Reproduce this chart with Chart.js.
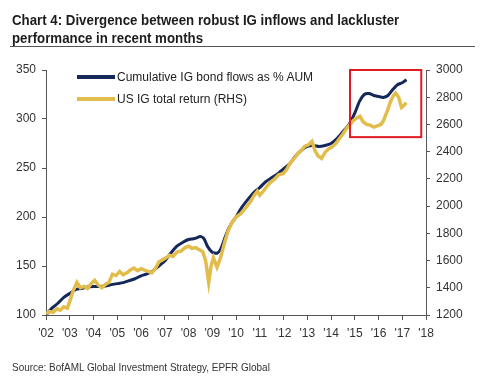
<!DOCTYPE html>
<html>
<head>
<meta charset="utf-8">
<script src="https://cdn.jsdelivr.net/npm/chart.js@4/dist/chart.umd.min.js"></script>
<style>
  html,body{margin:0;padding:0;background:#fff;}
  #wrap{position:relative;width:500px;height:384px;overflow:hidden;background:#fff;}
  #title{position:absolute;left:12px;top:11px;font-family:"Liberation Sans",Arial,sans-serif;font-weight:bold;font-size:15px;line-height:18px;color:#1c1c1c;transform:scaleX(0.885);transform-origin:0 0;white-space:nowrap;}
  #rule{position:absolute;left:10px;top:46px;width:465px;height:0;border-top:1.5px solid #555;}
  #source{position:absolute;left:12px;top:361px;font-family:"Liberation Sans",Arial,sans-serif;font-size:11px;color:#333;transform:scaleX(0.905);transform-origin:0 0;white-space:nowrap;}
  #c{position:absolute;left:0;top:0;}
  .leg{position:absolute;left:77px;font-family:"Liberation Sans",Arial,sans-serif;font-size:12px;color:#222;height:14px;line-height:14px;white-space:nowrap;}
  .leg span.sw{display:inline-block;width:38px;height:4px;vertical-align:middle;margin-right:2px;position:relative;top:-1px;}
</style>
</head>
<body>
<div id="wrap">
  <canvas id="c" width="500" height="384"></canvas>
  <div id="title">Chart 4: Divergence between robust IG inflows and lackluster<br>performance in recent months</div>
  <div id="rule"></div>
  <div class="leg" style="top:70px"><span class="sw" style="background:#14285a"></span>Cumulative IG bond flows as % AUM</div>
  <div class="leg" style="top:92px"><span class="sw" style="background:#e3bd4c"></span>US IG total return (RHS)</div>
  <div id="source">Source: BofAML Global Investment Strategy, EPFR Global</div>
</div>
<script>
// ---- data ----
const flowYears = [2002.0,2002.25,2002.5,2002.75,2003.0,2003.25,2003.5,2003.75,2004.0,2004.25,2004.5,2004.75,2005.0,2005.25,2005.5,2005.75,2006.0,2006.25,2006.5,2006.75,2007.0,2007.25,2007.5,2007.75,2008.0,2008.25,2008.5,2008.65,2008.8,2009.0,2009.2,2009.35,2009.6,2009.8,2010.0,2010.25,2010.5,2010.75,2011.0,2011.25,2011.5,2011.75,2012.0,2012.25,2012.5,2012.75,2013.0,2013.25,2013.5,2013.75,2014.0,2014.25,2014.5,2014.75,2015.0,2015.2,2015.4,2015.6,2015.8,2016.0,2016.2,2016.4,2016.6,2016.8,2017.0,2017.18];
const flowValues = [100,107,112,118,122,126,127,128.5,129,129,129.5,131,132,133,135,137,140,142,145,150,155,163,170,174,177,178,180,178,170,164,163,167,183,193,200,210,218,225,230,236,240,244,249,254,262,268,272,273,272,273,275,280,287,294,306,318,325,326,324,323,322,324,330,335,337,340];

const retYears = [2002.0,2002.15,2002.3,2002.45,2002.6,2002.75,2002.9,2003.0,2003.15,2003.3,2003.45,2003.6,2003.75,2003.9,2004.05,2004.2,2004.35,2004.5,2004.65,2004.8,2004.95,2005.1,2005.25,2005.4,2005.55,2005.7,2005.85,2006.0,2006.15,2006.3,2006.45,2006.6,2006.75,2006.9,2007.05,2007.2,2007.35,2007.5,2007.7,2007.85,2008.0,2008.15,2008.3,2008.45,2008.6,2008.72,2008.85,2008.95,2009.05,2009.2,2009.35,2009.5,2009.65,2009.8,2010.0,2010.2,2010.4,2010.6,2010.75,2010.9,2011.0,2011.15,2011.3,2011.45,2011.6,2011.8,2012.0,2012.15,2012.3,2012.45,2012.6,2012.75,2012.9,2013.05,2013.2,2013.32,2013.45,2013.6,2013.75,2013.9,2014.05,2014.2,2014.35,2014.5,2014.65,2014.8,2014.95,2015.1,2015.22,2015.35,2015.5,2015.65,2015.8,2015.95,2016.1,2016.2,2016.35,2016.5,2016.62,2016.72,2016.85,2016.97,2017.07,2017.17];
const retValues = [1210,1225,1220,1245,1235,1260,1250,1300,1380,1440,1400,1410,1395,1430,1455,1420,1400,1425,1440,1500,1490,1520,1495,1510,1530,1545,1525,1540,1530,1520,1510,1540,1590,1605,1620,1640,1630,1660,1670,1695,1705,1690,1695,1680,1665,1600,1440,1560,1620,1550,1620,1720,1810,1870,1920,1945,1985,2030,2075,2110,2080,2110,2145,2175,2195,2230,2240,2275,2320,2350,2385,2410,2440,2450,2475,2410,2370,2350,2395,2420,2435,2460,2495,2530,2570,2600,2630,2650,2660,2620,2600,2595,2580,2590,2600,2625,2690,2765,2810,2830,2800,2725,2740,2760];

const leftTicks = [100,150,200,250,300,350];
const rightTicks = [1200,1400,1600,1800,2000,2200,2400,2600,2800,3000];
const yearTicks = [2002,2003,2004,2005,2006,2007,2008,2009,2010,2011,2012,2013,2014,2015,2016,2017,2018];

// highlight box in data units (x: years, y: left axis)
const boxX = [2014.8, 2017.8];
const boxY = [281.5, 350];

const flowPts = flowYears.map((x,i)=>({x:x,y:flowValues[i]}));
const retPts = retYears.map((x,i)=>({x:x,y:retValues[i]}));

const boxPlugin = {
  id:'box',
  afterDatasetsDraw(chart){
    const xs = chart.scales.x, ys = chart.scales.y, ctx = chart.ctx;
    const x0 = xs.getPixelForValue(boxX[0]), x1 = xs.getPixelForValue(boxX[1]);
    const y0 = ys.getPixelForValue(boxY[1]), y1 = ys.getPixelForValue(boxY[0]);
    ctx.save();
    ctx.strokeStyle = '#e01b22';
    ctx.lineWidth = 2;
    ctx.strokeRect(x0, y0, x1-x0, y1-y0);
    ctx.restore();
  }
};

const tickFont = {family:'"Liberation Sans", Arial, sans-serif', size:12};
const axisCol = '#555';

new Chart(document.getElementById('c'), {
  type:'line',
  data:{
    datasets:[
      {label:'US IG total return (RHS)', data:retPts, yAxisID:'y1', borderColor:'#e3bd4c', borderWidth:3.5, pointRadius:0, tension:0, order:0},
      {label:'Cumulative IG bond flows as % AUM', data:flowPts, yAxisID:'y', borderColor:'#14285a', borderWidth:3, pointRadius:0, tension:0.2, order:1}
    ]
  },
  options:{
    responsive:false,
    animation:false,
    layout:{padding:{top:70,left:0,right:0,bottom:0}},
    plugins:{legend:{display:false}, title:{display:false}, tooltip:{enabled:false}},
    scales:{
      x:{
        type:'linear', min:2002, max:2018,
        afterFit(s){ s.height = 69; },
        afterBuildTicks(s){ s.ticks = yearTicks.map(v=>({value:v})); },
        ticks:{ callback:(v)=>"'"+String(v).slice(2), font:tickFont, color:'#333', padding:6, maxRotation:0, autoSkip:false },
        grid:{ drawOnChartArea:false, drawTicks:true, tickLength:5, color:axisCol },
        border:{ display:true, color:axisCol, width:1 }
      },
      y:{
        position:'left', min:100, max:350,
        afterFit(s){ s.width = 46; },
        afterBuildTicks(s){ s.ticks = leftTicks.map(v=>({value:v})); },
        ticks:{ callback:(v)=>String(v), font:tickFont, color:'#333', padding:6 },
        grid:{ drawOnChartArea:false, drawTicks:true, tickLength:4, color:axisCol },
        border:{ display:true, color:axisCol, width:1 }
      },
      y1:{
        position:'right', min:1200, max:3000,
        afterFit(s){ s.width = 74; },
        afterBuildTicks(s){ s.ticks = rightTicks.map(v=>({value:v})); },
        ticks:{ callback:(v)=>String(v), font:tickFont, color:'#333', padding:6 },
        grid:{ drawOnChartArea:false, drawTicks:true, tickLength:4, color:axisCol },
        border:{ display:true, color:axisCol, width:1 }
      }
    }
  },
  plugins:[boxPlugin]
});
</script>
</body>
</html>
